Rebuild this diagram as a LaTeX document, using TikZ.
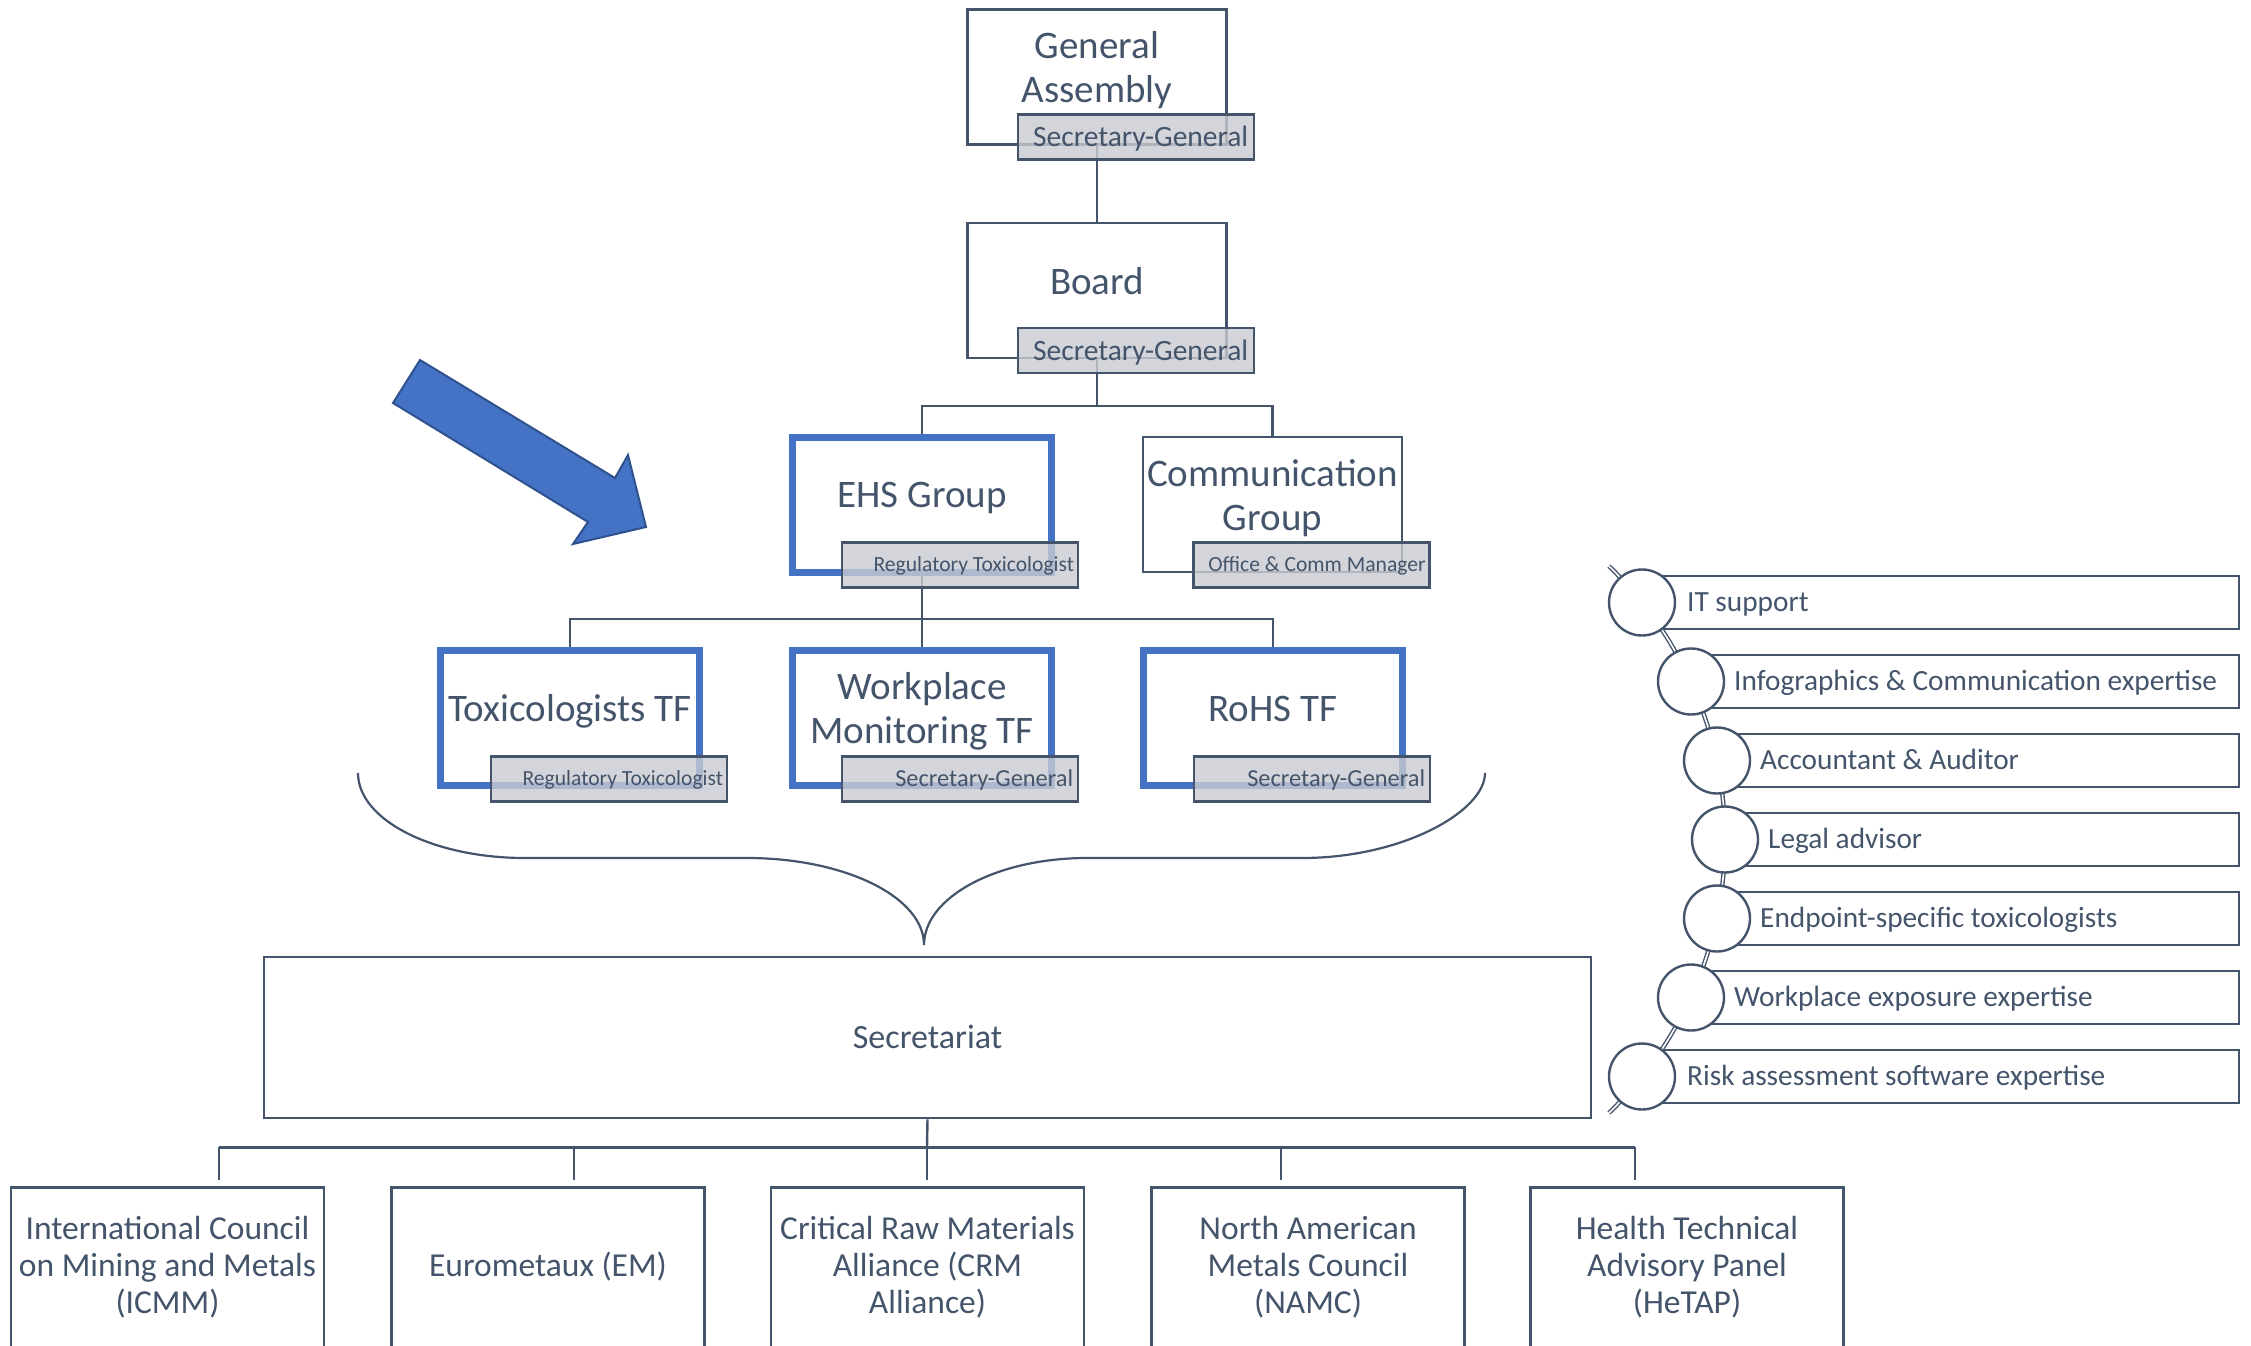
\documentclass[tikz,border=0pt]{standalone}
\usepackage{fontspec}
\setmainfont{Carlito}
\usetikzlibrary{calc}
\definecolor{tc}{HTML}{44546A}
\definecolor{bl}{HTML}{4472C4}
\definecolor{bld}{HTML}{2F528F}
\definecolor{lg}{HTML}{C9CBD1}
\begin{document}
\begin{tikzpicture}[x=1pt,y=-1pt,
  every node/.style={text=tc},
  conn/.style={draw=tc, line width=2.4pt},
  gbox/.style={draw=tc, line width=2.6pt, minimum width=259pt, minimum height=135pt, inner sep=0pt},
  bbox/.style={draw=bl, line width=7pt, minimum width=259pt, minimum height=135pt, inner sep=0pt},
  lbl/.style={draw=tc, fill=lg, fill opacity=0.8, line width=2.6pt,
              minimum width=236pt, minimum height=45pt, inner sep=0pt},
  ltxt/.style={inner sep=0pt, anchor=east, text depth=0pt},
  ltxtA/.style={ltxt, font=\fontsize{29.5}{32}\selectfont, text height=19pt},
  ltxtB/.style={ltxt, font=\fontsize{24.4}{27}\selectfont, text height=15.7pt},
  ltxtC/.style={ltxt, font=\fontsize{21.6}{24}\selectfont, text height=13.9pt},
  bigtxt/.style={font=\fontsize{39}{44.5}\selectfont, align=center, inner sep=0pt},
  bigone/.style={bigtxt, text height=25.1pt, text depth=0pt},
  midtxt/.style={font=\fontsize{33.5}{37}\selectfont, align=center, inner sep=0pt},
  irect/.style={draw=tc, line width=2.4pt, minimum height=53pt, inner sep=0pt, anchor=west},
  icirc/.style={circle, draw=tc, fill=white, line width=2.4pt, minimum size=66pt, inner sep=0pt},
  itxt/.style={font=\fontsize{29.3}{32}\selectfont, text height=18.9pt, text depth=0pt, inner sep=0pt, anchor=west},
  chain/.style={draw=tc, line width=1.4pt, double=white, double distance=1.6pt}
]
\useasboundingbox (0,0) rectangle (2251,1346);
\clip (0,0) rectangle (2251,1346);

% ---------- boxes ----------
\node[gbox] (ga) at (1097,77) {};
\node[gbox] (board) at (1097,290.5) {};
\node[bbox] (ehs) at (922,505) {};
\node[gbox] (comm) at (1272.5,504.5) {};
\node[bbox] (tox) at (570,718) {};
\node[bbox] (wm) at (922,718) {};
\node[bbox] (rohs) at (1273,718) {};

% ---------- connectors ----------
\coordinate (j1) at (1097,406);
\coordinate (j2) at (922,619);
\draw[conn] (ga.south) -- (board.north);
\draw[conn] (board.south) -- (j1);
\draw[conn] (j1) -| (ehs.north);
\draw[conn] (j1) -| (comm.north);
\draw[conn] (ehs.south) -- (j2);
\draw[conn] (j2) -| (tox.north);
\draw[conn] (j2) -- (wm.north);
\draw[conn] (j2) -| (rohs.north);

% ---------- labels ----------
\node[lbl] (ga-l) at ($(ga)+(39,60)$) {};
\node[lbl] (board-l) at ($(board)+(39,60)$) {};
\node[lbl] (ehs-l) at ($(ehs)+(38,60)$) {};
\node[lbl] (comm-l) at ($(comm)+(39,60.5)$) {};
\node[lbl] (tox-l) at ($(tox)+(39,61)$) {};
\node[lbl] (wm-l) at ($(wm)+(38,61)$) {};
\node[lbl] (rohs-l) at ($(rohs)+(39,61)$) {};

\node[ltxtA] (ga-lt) at ($(ga-l.east)+(-7,0)$) {Secretary-General};
\node[ltxtA] (board-lt) at ($(board-l.east)+(-7,0)$) {Secretary-General};
\node[ltxtC] (ehs-lt) at ($(ehs-l.east)+(-5,0)$) {Regulatory Toxicologist};
\node[ltxtC] (comm-lt) at ($(comm-l.east)+(-5,0)$) {Office \& Comm Manager};
\node[ltxtC] (tox-lt) at ($(tox-l.east)+(-5,0)$) {Regulatory Toxicologist};
\node[ltxtB] (wm-lt) at ($(wm-l.east)+(-6,0)$) {Secretary-General};
\node[ltxtB] (rohs-lt) at ($(rohs-l.east)+(-6,0)$) {Secretary-General};

% ---------- box texts ----------
\node[bigtxt] (ga-t) at ($(ga)+(0,-7)$) {General\\Assembly};
\node[bigone] (board-t) at ($(board)+(0,-9)$) {Board};
\node[bigone] (ehs-t) at ($(ehs)+(0,-10)$) {EHS Group};
\node[bigtxt] (comm-t) at ($(comm)+(0,-6.5)$) {Communication\\Group};
\node[bigone] (tox-t) at ($(tox)+(0,-9)$) {Toxicologists TF};
\node[bigtxt] (wm-t) at ($(wm)+(0,-6.5)$) {Workplace\\Monitoring TF};
\node[bigone] (rohs-t) at ($(rohs)+(0,-9)$) {RoHS TF};

% ---------- arrow ----------
\draw[draw=bld, fill=bl, line width=2pt, line join=miter]
  (420,360) -- (615,478) -- (628,455) -- (646,527) -- (573,544) -- (588,522) -- (393,403) -- cycle;

% ---------- brace ----------
\draw[draw=tc, line width=2.2pt]
  (358,773) .. controls (358,820) and (433,858) .. (525,858) -- (747,858)
  .. controls (845,858) and (924,897) .. (924,945)
  .. controls (924,897) and (997,858) .. (1087,858) -- (1302,858)
  .. controls (1403,858) and (1485,811) .. (1485,773);

% ---------- secretariat ----------
\node[draw=tc, line width=2.6pt, minimum width=1327pt, minimum height=161pt, inner sep=0pt,
      font=\fontsize{34}{37}\selectfont, text height=22pt, text depth=0pt] (sec) at (927.5,1037.5) {Secretariat};
\coordinate (j3) at (927,1147);
\coordinate (bL) at (219,1147);
\coordinate (bR) at (1635,1147);
\coordinate (e1) at (219,1180);
\coordinate (e2) at (574,1180);
\coordinate (e3) at (927,1180);
\coordinate (e4) at (1281,1180);
\coordinate (e5) at (1635,1180);
\draw[conn] (sec.south) -- (j3);
\draw[conn, line width=3pt] (bL) -- (bR);
\draw[conn] (e1 |- bL) -- (e1);
\draw[conn] (e2 |- bL) -- (e2);
\draw[conn] (e3 |- bL) -- (e3);
\draw[conn] (e4 |- bL) -- (e4);
\draw[conn] (e5 |- bL) -- (e5);

% ---------- bottom boxes ----------
\node[gbox, minimum width=313pt, minimum height=220pt, anchor=north] (icmm) at (167.5,1186) {};
\node[gbox, minimum width=313pt, minimum height=220pt, anchor=north] (em) at (548,1186) {};
\node[gbox, minimum width=313pt, minimum height=220pt, anchor=north] (crm) at (927.5,1186) {};
\node[gbox, minimum width=313pt, minimum height=220pt, anchor=north] (namc) at (1308,1186) {};
\node[gbox, minimum width=313pt, minimum height=220pt, anchor=north] (hetap) at (1687,1186) {};
\node[midtxt] (icmm-t) at (167.5,1267) {International Council\\on Mining and Metals\\(ICMM)};
\node[midtxt] (em-t) at (548,1267) {Eurometaux (EM)};
\node[midtxt] (crm-t) at (927.5,1267) {Critical Raw Materials\\Alliance (CRM\\Alliance)};
\node[midtxt] (namc-t) at (1308,1267) {North American\\Metals Council\\(NAMC)};
\node[midtxt] (hetap-t) at (1687,1267) {Health Technical\\Advisory Panel\\(HeTAP)};

% ---------- right list ----------
\node[irect, minimum width=596pt] (r0) at (1642,602.5) {};
\node[irect, minimum width=547pt] (r1) at (1691,681.5) {};
\node[irect, minimum width=521pt] (r2) at (1717,760.5) {};
\node[irect, minimum width=513pt] (r3) at (1725,839.5) {};
\node[irect, minimum width=521pt] (r4) at (1717,918.5) {};
\node[irect, minimum width=547pt] (r5) at (1691,997.5) {};
\node[irect, minimum width=596pt] (r6) at (1642,1076.5) {};

\draw[chain] (1345,839.5) ++(-46:380) arc[start angle=-46, end angle=46, radius=380];

\node[icirc] (c0) at (1642,602.5) {};
\node[icirc] (c1) at (1691,681.5) {};
\node[icirc] (c2) at (1717,760.5) {};
\node[icirc] (c3) at (1725,839.5) {};
\node[icirc] (c4) at (1717,918.5) {};
\node[icirc] (c5) at (1691,997.5) {};
\node[icirc] (c6) at (1642,1076.5) {};

\node[itxt] (t0) at ($(c0)+(45,0)$) {IT support};
\node[itxt] (t1) at ($(c1)+(43,0)$) {Infographics \& Communication expertise};
\node[itxt] (t2) at ($(c2)+(43,0)$) {Accountant \& Auditor};
\node[itxt] (t3) at ($(c3)+(43,0)$) {Legal advisor};
\node[itxt] (t4) at ($(c4)+(43,0)$) {Endpoint-specific toxicologists};
\node[itxt] (t5) at ($(c5)+(43,0)$) {Workplace exposure expertise};
\node[itxt] (t6) at ($(c6)+(45,0)$) {Risk assessment software expertise};
\end{tikzpicture}
\end{document}
